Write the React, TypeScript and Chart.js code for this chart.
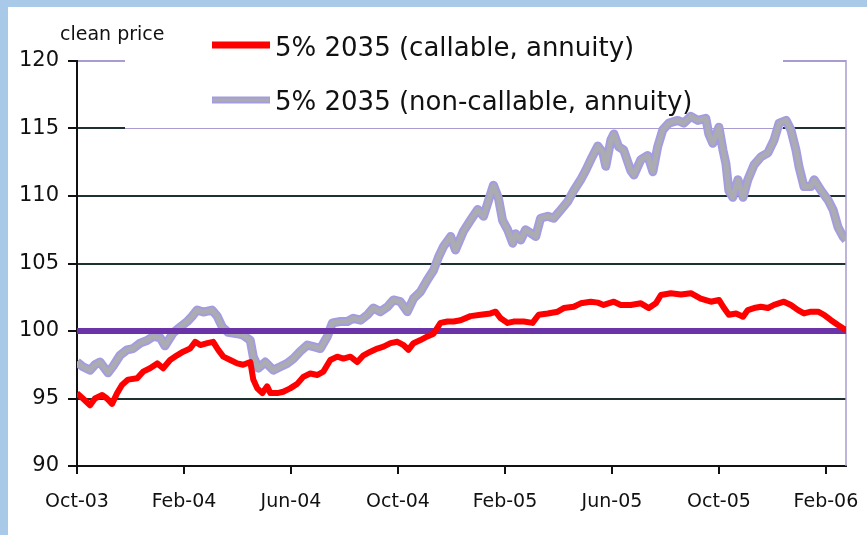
import React, { useEffect, useRef } from 'react';
import { Chart, registerables } from 'chart.js';

Chart.register(...registerables);

// x values are months since Oct-03
const tickMonths = [0, 4, 8, 12, 16, 20, 24, 28];
const tickLabels = ['Oct-03', 'Feb-04', 'Jun-04', 'Oct-04', 'Feb-05', 'Jun-05', 'Oct-05', 'Feb-06'];
const xMax = 28.75;

const seriesNames = ['5% 2035 (callable, annuity)', '5% 2035 (non-callable, annuity)'];
const yAxisTitle = 'clean price';

const callableMonths = [
  0.0, 0.22, 0.49, 0.67, 0.94, 1.12, 1.31, 1.5, 1.68, 1.91, 2.25, 2.47, 2.73, 3.0, 3.22, 3.48, 3.74, 3.97,
  4.23, 4.42, 4.61, 4.87, 5.09, 5.28, 5.47, 5.73, 5.99, 6.21, 6.48, 6.59, 6.74, 6.93, 7.11, 7.23, 7.49, 7.71,
  7.97, 8.24, 8.46, 8.72, 8.99, 9.21, 9.47, 9.73, 9.96, 10.22, 10.48, 10.71, 10.97, 11.23, 11.46, 11.72, 11.98,
  12.21, 12.39, 12.58, 12.84, 13.1, 13.33, 13.59, 13.85, 14.08, 14.34, 14.71, 15.09, 15.46, 15.65, 15.84, 16.1,
  16.32, 16.7, 17.03, 17.26, 17.6, 17.97, 18.2, 18.57, 18.83, 19.21, 19.47, 19.69, 20.07, 20.33, 20.7, 21.08,
  21.38, 21.64, 21.83, 22.2, 22.58, 22.95, 23.32, 23.7, 24.0, 24.19, 24.37, 24.64, 24.9, 25.08, 25.31, 25.57,
  25.83, 26.06, 26.43, 26.69, 26.96, 27.18, 27.44, 27.71, 27.93, 28.19, 28.45, 28.64, 28.75,
];
const callablePrices = [
  95.4, 95.0, 94.5, 95.0, 95.26, 95.0, 94.6, 95.4, 96.0, 96.4, 96.5, 96.99, 97.24, 97.6, 97.24, 97.85, 98.2, 98.47,
  98.7, 99.2, 98.96, 99.1, 99.2, 98.6, 98.1, 97.85, 97.6, 97.5, 97.7, 96.4, 95.75, 95.4, 95.9, 95.4, 95.4, 95.5,
  95.75, 96.1, 96.6, 96.85, 96.74, 96.99, 97.85, 98.1, 97.96, 98.1, 97.7, 98.2, 98.47, 98.7, 98.84, 99.1, 99.2,
  98.96, 98.6, 99.1, 99.33, 99.6, 99.8, 100.6, 100.7, 100.7, 100.8, 101.1, 101.2, 101.3, 101.43, 100.94, 100.6,
  100.7, 100.7, 100.6, 101.2, 101.3, 101.43, 101.7, 101.8, 102.05, 102.17, 102.1, 101.93, 102.17, 101.93, 101.93, 102.05,
  101.7, 102.05, 102.67, 102.8, 102.7, 102.8, 102.4, 102.17, 102.3, 101.7, 101.2, 101.3, 101.06, 101.55, 101.7, 101.8,
  101.7, 101.93, 102.17, 101.93, 101.55, 101.3, 101.43, 101.43, 101.2, 100.8, 100.44, 100.2, 100.07,
];

const nonCallableMonths = [
  0.0, 0.22, 0.49, 0.67, 0.86, 1.16, 1.35, 1.61, 1.87, 2.1, 2.36, 2.62, 2.85, 3.11, 3.29, 3.59, 3.86, 4.12, 4.31,
  4.49, 4.72, 5.05, 5.24, 5.43, 5.65, 5.99, 6.21, 6.48, 6.59, 6.78, 7.04, 7.34, 7.6, 7.86, 8.09, 8.35, 8.61, 8.84,
  9.1, 9.36, 9.55, 9.85, 10.11, 10.33, 10.6, 10.86, 11.08, 11.34, 11.61, 11.83, 12.09, 12.35, 12.58, 12.84, 13.1,
  13.33, 13.52, 13.7, 13.97, 14.15, 14.45, 14.71, 14.98, 15.2, 15.39, 15.57, 15.76, 15.91, 16.1, 16.29, 16.4, 16.59,
  16.77, 16.96, 17.15, 17.33, 17.6, 17.82, 18.08, 18.35, 18.57, 18.83, 19.02, 19.21, 19.47, 19.66, 19.77, 19.96,
  20.07, 20.25, 20.44, 20.7, 20.82, 21.08, 21.34, 21.53, 21.71, 21.9, 22.13, 22.46, 22.69, 22.95, 23.21, 23.51,
  23.62, 23.77, 24.0, 24.15, 24.26, 24.37, 24.52, 24.71, 24.9, 25.08, 25.31, 25.57, 25.83, 26.06, 26.25, 26.51,
  26.69, 26.88, 26.99, 27.18, 27.44, 27.56, 27.82, 28.08, 28.27, 28.45, 28.64, 28.75,
];
const nonCallablePrices = [
  97.7, 97.35, 97.1, 97.5, 97.7, 96.9, 97.4, 98.2, 98.6, 98.7, 99.1, 99.3, 99.6, 99.5, 98.9, 99.85, 100.3, 100.7, 101.1,
  101.55, 101.4, 101.55, 101.1, 100.3, 99.9, 99.8, 99.7, 99.3, 98.1, 97.25, 97.7, 97.1, 97.35, 97.6, 97.95, 98.5, 98.96, 98.84,
  98.7, 99.6, 100.6, 100.7, 100.7, 100.94, 100.8, 101.2, 101.7, 101.43, 101.8, 102.3, 102.17, 101.43, 102.4, 102.9, 103.8,
  104.5, 105.5, 106.25, 107.0, 106.0, 107.4, 108.2, 109.0, 108.5, 109.7, 110.8, 109.8, 108.2, 107.5, 106.5, 107.2, 106.74,
  107.5, 107.26, 107.0, 108.35, 108.5, 108.35, 108.96, 109.6, 110.4, 111.2, 111.9, 112.7, 113.7, 113.2, 112.2, 114.15,
  114.6, 113.65, 113.4, 111.9, 111.55, 112.7, 113.0, 111.8, 113.65, 114.9, 115.4, 115.6, 115.4, 115.9, 115.6, 115.75,
  114.6, 113.9, 115.1, 113.4, 112.4, 110.4, 109.9, 111.2, 109.9, 111.2, 112.3, 112.9, 113.2, 114.15, 115.4, 115.6,
  114.9, 113.4, 112.2, 110.7, 110.7, 111.2, 110.4, 109.7, 108.96, 107.7, 107.0, 106.74,
];

const parMonths = [0, xMax];
const parPrices = [100, 100];

const RED = '#ff0000';
const GRAY = '#ababb2';
const GRAY_EDGE = '#a49ce0';
const PURPLE = '#6a34a8';
const LAV = '#a89cd0';
const GRID = '#1e3030';
const FONT = "'DejaVu Sans', sans-serif";

const toPoints = (xs: number[], ys: number[]) => xs.map((x, i) => ({ x, y: ys[i] }));

const overlayPlugin = {
  id: 'overlay',
  beforeDatasetsDraw(chart: any) {
    const { ctx, chartArea, scales } = chart;
    const y115 = scales.y.getPixelForValue(115);
    ctx.save();
    // legend box (white, covering the top gridline)
    ctx.fillStyle = '#ffffff';
    ctx.fillRect(117, chartArea.top - 4, 658, y115 - chartArea.top + 5.5);
    ctx.strokeStyle = LAV;
    ctx.lineWidth = 1;
    ctx.beginPath();
    ctx.moveTo(117, Math.round(y115) + 0.5);
    ctx.lineTo(775, Math.round(y115) + 0.5);
    ctx.stroke();
    // right border of plot
    ctx.lineWidth = 1.5;
    ctx.beginPath();
    ctx.moveTo(chartArea.right, chartArea.top - 1);
    ctx.lineTo(chartArea.right, chartArea.bottom);
    ctx.stroke();
    ctx.restore();
  },
  afterDatasetsDraw(chart: any) {
    const { ctx } = chart;
    const names = chart.data.datasets.map((d: any) => d.label);
    ctx.save();
    // y axis title
    ctx.fillStyle = '#111';
    ctx.font = `19px ${FONT}`;
    ctx.textBaseline = 'alphabetic';
    ctx.textAlign = 'left';
    ctx.fillText(yAxisTitle, 52, 33);
    // legend item 1
    ctx.lineCap = 'butt';
    ctx.strokeStyle = RED;
    ctx.lineWidth = 7;
    ctx.beginPath();
    ctx.moveTo(204, 38);
    ctx.lineTo(262, 38);
    ctx.stroke();
    // legend item 2
    ctx.strokeStyle = GRAY_EDGE;
    ctx.lineWidth = 7;
    ctx.beginPath();
    ctx.moveTo(204, 93);
    ctx.lineTo(262, 93);
    ctx.stroke();
    ctx.strokeStyle = GRAY;
    ctx.lineWidth = 3;
    ctx.beginPath();
    ctx.moveTo(205, 93);
    ctx.lineTo(261, 93);
    ctx.stroke();
    ctx.fillStyle = '#111';
    ctx.font = `26px ${FONT}`;
    ctx.fillText(names[0], 267, 49);
    ctx.fillText(names[3], 267, 103);
    ctx.restore();
  },
};

export default function App() {
  const canvasRef = useRef<HTMLCanvasElement | null>(null);

  useEffect(() => {
    const canvas = canvasRef.current;
    if (!canvas) return;
    const nonCallable = toPoints(nonCallableMonths, nonCallablePrices);
    const chart = new Chart(canvas, {
      type: 'line',
      data: {
        datasets: [
          {
            label: seriesNames[0],
            data: toPoints(callableMonths, callablePrices),
            borderColor: RED,
            borderWidth: 6,
            pointRadius: 0,
            tension: 0,
            borderJoinStyle: 'round',
          },
          {
            label: 'par',
            data: toPoints(parMonths, parPrices),
            borderColor: PURPLE,
            borderWidth: 6,
            pointRadius: 0,
            tension: 0,
          },
          {
            label: seriesNames[1] + ' core',
            data: nonCallable,
            borderColor: GRAY,
            borderWidth: 5,
            pointRadius: 0,
            tension: 0,
            borderJoinStyle: 'round',
          },
          {
            label: seriesNames[1],
            data: nonCallable,
            borderColor: GRAY_EDGE,
            borderWidth: 9,
            pointRadius: 0,
            tension: 0,
            borderJoinStyle: 'round',
          },
        ],
      },
      options: {
        responsive: false,
        animation: false,
        layout: { padding: { top: 54, right: 21, left: 0, bottom: 0 } },
        plugins: {
          legend: { display: false },
          tooltip: { enabled: false },
        },
        scales: {
          x: {
            type: 'linear',
            min: 0,
            max: xMax,
            afterBuildTicks: (scale: any) => {
              scale.ticks = tickMonths.map((v) => ({ value: v }));
            },
            afterFit: (scale: any) => {
              scale.height = 69;
              scale.paddingLeft = 0;
              scale.paddingRight = 0;
            },
            ticks: {
              autoSkip: false,
              maxRotation: 0,
              padding: 17,
              color: '#111',
              font: { family: FONT, size: 19 },
              callback: (v: any) => {
                const i = tickMonths.indexOf(Number(v));
                return i >= 0 ? tickLabels[i] : '';
              },
            },
            grid: {
              drawOnChartArea: false,
              drawTicks: true,
              tickLength: 8,
              color: '#111',
              lineWidth: 2,
            },
            border: { display: true, color: '#111', width: 2 },
          },
          y: {
            min: 90,
            max: 120,
            afterFit: (scale: any) => {
              scale.width = 69;
              scale.paddingTop = 0;
              scale.paddingBottom = 0;
            },
            ticks: {
              stepSize: 5,
              padding: 9,
              color: '#111',
              font: { family: FONT, size: 21 },
            },
            grid: {
              drawTicks: true,
              tickLength: 9,
              lineWidth: 2,
              tickColor: '#111',
              color: (ctx: any) => (ctx.tick && ctx.tick.value === 120 ? LAV : GRID),
            },
            border: { display: true, color: '#111', width: 2 },
          },
        },
      },
      plugins: [overlayPlugin],
    });
    return () => chart.destroy();
  }, []);

  return (
    <div style={{ position: 'fixed', left: 0, top: 0, right: 0, bottom: 0, background: '#a9c9e9' }}>
      <canvas
        ref={canvasRef}
        width={859}
        height={528}
        style={{ position: 'absolute', left: 8, top: 7, width: 859, height: 528, background: '#ffffff', display: 'block' }}
      />
    </div>
  );
}
